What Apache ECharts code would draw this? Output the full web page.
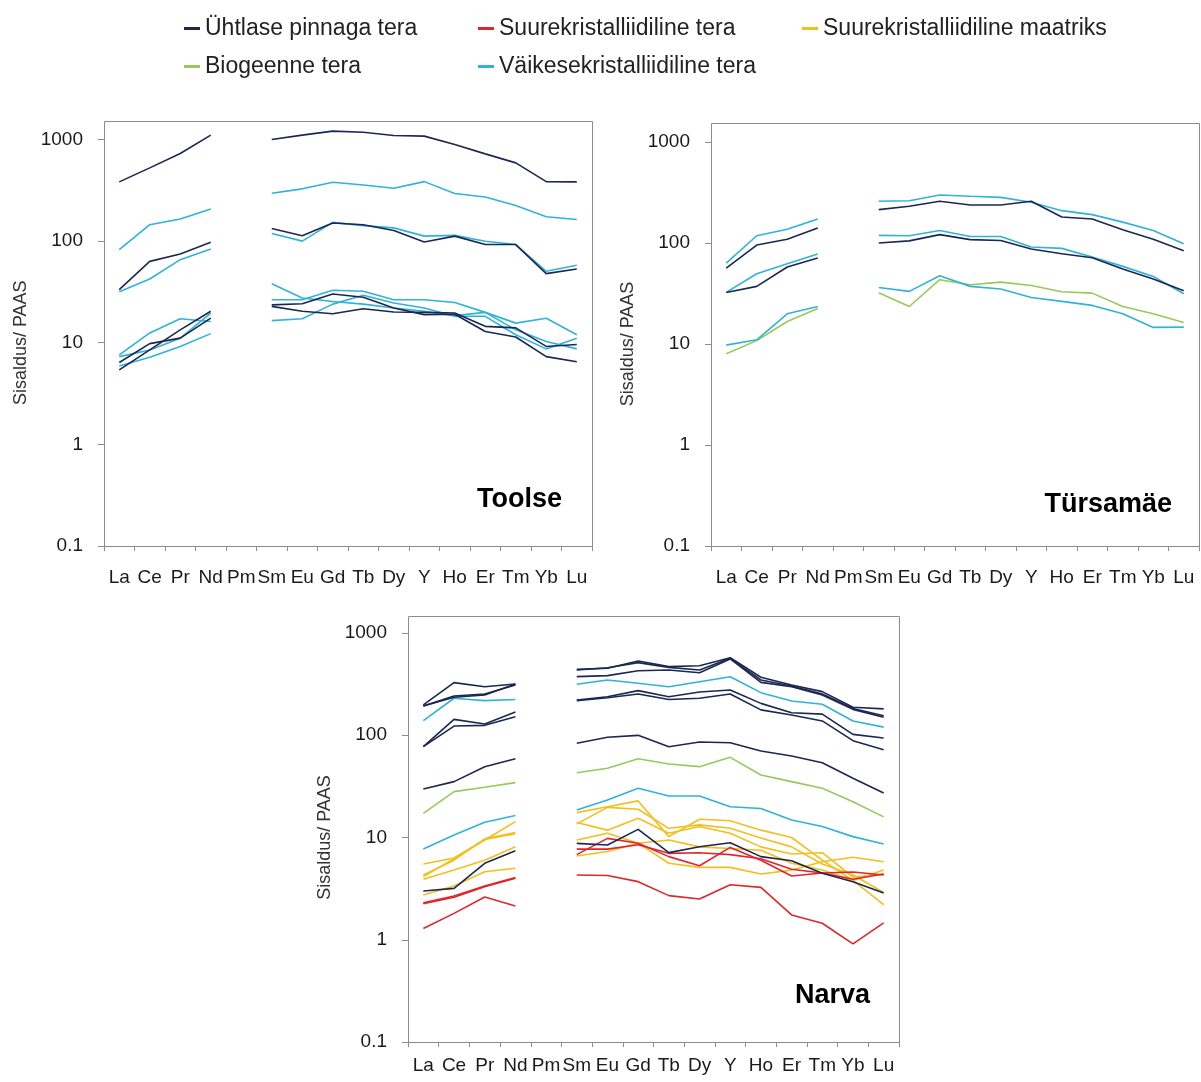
<!DOCTYPE html>
<html>
<head>
<meta charset="utf-8">
<title>REE / PAAS</title>
<script src="https://cdn.jsdelivr.net/npm/echarts@6/dist/echarts.min.js"></script>
<style>
html, body { margin: 0; padding: 0; background: #fff; }
#chart { width: 1201px; height: 1082px; }
</style>
</head>
<body>
<div id="chart"></div>
<script>
// elemendid (Pm puudub -> null)
const elements = ['La', 'Ce', 'Pr', 'Nd', 'Pm', 'Sm', 'Eu', 'Gd', 'Tb', 'Dy', 'Y', 'Ho', 'Er', 'Tm', 'Yb', 'Lu'];
const yTicks = [0.1, 1, 10, 100, 1000];

const NAME_U = 'Ühtlase pinnaga tera';
const NAME_R = 'Suurekristalliidiline tera';
const NAME_M = 'Suurekristalliidiline maatriks';
const NAME_B = 'Biogeenne tera';
const NAME_V = 'Väikesekristalliidiline tera';

// Toolse
const toolseUhtlane = [
    [383, 526, 728, 1104, null, 1000, 1104, 1208, 1180, 1094, 1079, 893, 722, 589, 385, 383],
    [33.3, 63.2, 74.8, 97.3, null, 133, 113, 151, 145, 127, 98, 112, 92.5, 92.5, 47.9, 53.2],
    [6.4, 9.8, 11.1, 17.5, null, 23.6, 24.2, 30.2, 28.0, 22.0, 18.9, 19.1, 12.9, 11.4, 7.3, 6.5],
    [5.4, 8.5, 13.4, 20.4, null, 22.8, 20.4, 19.3, 21.6, 20.1, 19.9, 19.6, 14.5, 14.0, 9.2, 9.6]
];
const toolseVaike = [
    [82.4, 145, 165, 207, null, 296, 327, 380, 357, 331, 385, 294, 272, 224, 174, 163],
    [31.8, 42.4, 65.7, 83.7, null, 119, 100, 153, 142, 135, 112, 114, 99.6, 92.5, 50.5, 57.8],
    [7.6, 12.5, 17.2, 16.2, null, 26.5, 26.5, 32.8, 32.1, 26.5, 26.5, 24.9, 19.9, 15.6, 17.4, 12.0],
    [7.3, 8.5, 11.1, 19.6, null, 38.1, 27.6, 25.5, 24.0, 22.0, 20.4, 18.5, 19.9, 13.4, 10.3, 8.7],
    [5.9, 7.2, 9.2, 12.3, null, 16.5, 17.2, 24.0, 29.3, 24.6, 22.0, 18.2, 18.2, 12.0, 8.7, 11.1]
];

// Türsamäe
const tursaUhtlane = [
    [56.5, 95.5, 109, 141, null, 214, 231, 259, 238, 238, 259, 181, 173, 135, 109, 83.9],
    [32.4, 37.2, 57.8, 71.0, null, 100, 105, 121, 108, 106, 87.1, 78.3, 71.5, 55.2, 44.0, 33.7]
];
const tursaVaike = [
    [63.3, 118, 137, 173, null, 259, 262, 299, 290, 283, 253, 209, 191, 161, 133, 98.4],
    [32.4, 49.6, 62.3, 77.8, null, 119, 118, 133, 116, 116, 91.2, 88.5, 72.6, 58.7, 46.7, 31.4],
    [9.75, 11.0, 19.9, 23.5, null, 36.3, 33.2, 47.4, 37.2, 35.0, 28.9, 26.4, 24.1, 19.9, 14.6, 14.7]
];
const tursaBio = [
    [8.0, 10.8, 16.7, 22.5, null, 32.2, 23.5, 43.3, 38.6, 41.0, 38.0, 32.9, 31.9, 23.5, 19.9, 16.3]
];

// Narva
const narvaUhtlane = [
    [198, 327, 298, 317, null, 441, 452, 532, 469, 479, 574, 369, 310, 267, 188, 181],
    [193, 242, 253, 310, null, 435, 458, 513, 461, 435, 565, 347, 303, 253, 183, 155],
    [193, 235, 248, 317, null, 374, 383, 428, 435, 409, 557, 329, 298, 248, 179, 150],
    [77.3, 143, 129, 169, null, 221, 238, 273, 238, 265, 277, 205, 166, 161, 102, 94],
    [77.3, 123, 125, 152, null, 218, 233, 253, 224, 230, 253, 177, 158, 138, 88.5, 72],
    [29.8, 35.2, 49.3, 59.0, null, 83.4, 95.5, 99.8, 77.3, 85.9, 84.6, 70.1, 62.7, 53.9, 37.9, 27.2],
    [3.0, 3.18, 5.59, 7.43, null, 8.77, 8.45, 12.0, 7.11, 8.13, 8.9, 6.5, 5.93, 4.47, 3.7, 2.87]
];
const narvaVaike = [
    [139, 230, 218, 224, null, 315, 347, 322, 298, 334, 374, 261, 216, 201, 138, 120],
    [7.72, 10.6, 14.1, 16.4, null, 18.6, 23.3, 30.3, 25.5, 25.5, 20.0, 19.2, 14.8, 12.8, 10.2, 8.64]
];
const narvaBio = [
    [17.2, 28.1, 31.0, 34.4, null, 43.0, 47.5, 59.0, 52.4, 49.3, 60.8, 40.8, 35.2, 30.3, 22.4, 15.9]
];
const narvaMaatriks = [
    [5.5, 6.3, 9.45, 14.3, null, 17.5, 20.0, 22.8, 10.2, 15.1, 14.6, 11.8, 10.0, 6.0, 3.8, 2.2],
    [4.3, 6.0, 9.7, 11.2, null, 13.6, 19.7, 18.9, 12.3, 13.3, 12.3, 9.9, 8.1, 5.5, 4.3, 2.9],
    [4.14, 6.2, 9.55, 10.9, null, 14.0, 11.8, 15.4, 11.0, 12.8, 11.0, 8.1, 6.9, 7.1, 4.1, 4.4],
    [3.9, 4.81, 6.0, 8.13, null, 9.45, 11.0, 8.8, 5.6, 5.1, 5.1, 4.4, 4.8, 5.8, 6.4, 5.8],
    [2.74, 3.36, 4.63, 5.0, null, 6.6, 7.3, 8.8, 9.45, 8.1, 7.8, 7.5, 5.6, 4.8, 3.8, 4.8]
];
const narvaSuur = [
    [2.30, 2.68, 3.36, 4.05, null, 6.8, 9.8, 8.8, 6.5, 5.3, 8.0, 6.0, 4.2, 4.5, 3.9, 4.4],
    [2.25, 2.60, 3.30, 4.00, null, 7.7, 7.7, 8.5, 7.0, 7.1, 6.8, 6.2, 4.9, 4.5, 4.6, 4.3],
    [1.29, 1.81, 2.62, 2.14, null, 4.3, 4.25, 3.7, 2.7, 2.5, 3.45, 3.25, 1.75, 1.45, 0.91, 1.46]
];

const colors = {};
colors[NAME_U] = '#1b2851';
colors[NAME_R] = '#e0262b';
colors[NAME_M] = '#f3bf1c';
colors[NAME_B] = '#98c95a';
colors[NAME_V] = '#2fb3d8';

const FONT = 'Liberation Sans';
const axisColor = '#8c8c8c';

function lines(list, name, panel) {
    return list.map(d => ({
        name: name,
        type: 'line',
        xAxisIndex: panel,
        yAxisIndex: panel,
        data: d,
        symbol: 'none',
        clip: false, // Toolse ülemine joon läheb üle 1000
        color: colors[name],
        lineStyle: { width: 1.6, color: colors[name] },
        silent: true
    }));
}

function xAxis(panel, margin) {
    return {
        type: 'category',
        gridIndex: panel,
        data: elements,
        boundaryGap: true,
        axisLine: { lineStyle: { color: axisColor, width: 1 } },
        axisTick: { show: true, length: 5, lineStyle: { color: axisColor } },
        axisLabel: { interval: 0, margin: margin, fontSize: 19, color: '#1a1a1a', fontFamily: FONT },
        splitLine: { show: false }
    };
}

function yAxis(panel) {
    return {
        type: 'log',
        logBase: 10,
        gridIndex: panel,
        min: 0.1,
        max: 1000,
        name: 'Sisaldus/ PAAS',
        nameLocation: 'middle',
        nameGap: 74,
        nameTextStyle: { fontSize: 18, color: '#333', fontFamily: FONT },
        axisLine: { show: true, lineStyle: { color: axisColor, width: 1 } },
        axisTick: { show: true, length: 6, lineStyle: { color: axisColor } },
        axisLabel: {
            margin: 21,
            fontSize: 19,
            color: '#1a1a1a',
            fontFamily: FONT,
            formatter: function (v) {
                const r = Math.round(Math.log10(v));
                const t = yTicks.find(x => Math.abs(Math.log10(x) - r) < 1e-6);
                return t === undefined ? '' : String(t);
            }
        },
        splitLine: { show: false },
        minorTick: { show: false }
    };
}

function legendItem(name, left, top) {
    return {
        data: [name],
        left: left,
        top: top,
        icon: 'rect',
        itemWidth: 16,
        itemHeight: 3,
        padding: 0,
        selectedMode: false,
        textStyle: { fontSize: 23, color: '#222', fontFamily: FONT }
    };
}

function panelTitle(text, right, top) {
    return {
        text: text,
        right: right,
        top: top,
        padding: 0,
        textStyle: { fontSize: 27, fontWeight: 'bold', color: '#000', fontFamily: FONT }
    };
}

// raamid (plot area ulatub 1000-st veidi kõrgemale)
function frame(x, y, w, h) {
    return {
        type: 'rect',
        shape: { x: x + 0.5, y: y + 0.5, width: w, height: h },
        style: { fill: null, stroke: axisColor, lineWidth: 1 },
        silent: true,
        z: 0
    };
}

const option = {
    animation: false,
    backgroundColor: '#fff',
    title: [
        panelTitle('Toolse', 639, 486),
        panelTitle('Türsamäe', 29, 491),
        panelTitle('Narva', 331, 982)
    ],
    legend: [
        legendItem(NAME_U, 184, 17),
        legendItem(NAME_R, 478, 17),
        legendItem(NAME_M, 802, 17),
        legendItem(NAME_B, 184, 55),
        legendItem(NAME_V, 478, 55)
    ],
    graphic: [
        frame(104, 121, 488, 425),
        frame(711, 123, 488, 423),
        frame(408, 616, 491, 426)
    ],
    grid: [
        { left: 104, top: 139.5, width: 488, height: 406.5 },
        { left: 711, top: 142, width: 488, height: 404 },
        { left: 408, top: 633, width: 491, height: 409 }
    ],
    xAxis: [xAxis(0, 22), xAxis(1, 22), xAxis(2, 14)],
    yAxis: [yAxis(0), yAxis(1), yAxis(2)],
    series: [].concat(
        lines(toolseVaike, NAME_V, 0),
        lines(toolseUhtlane, NAME_U, 0),
        lines(tursaBio, NAME_B, 1),
        lines(tursaVaike, NAME_V, 1),
        lines(tursaUhtlane, NAME_U, 1),
        lines(narvaMaatriks, NAME_M, 2),
        lines(narvaSuur, NAME_R, 2),
        lines(narvaBio, NAME_B, 2),
        lines(narvaVaike, NAME_V, 2),
        lines(narvaUhtlane, NAME_U, 2)
    )
};

const chart = echarts.init(document.getElementById('chart'));
chart.setOption(option);
</script>
</body>
</html>
